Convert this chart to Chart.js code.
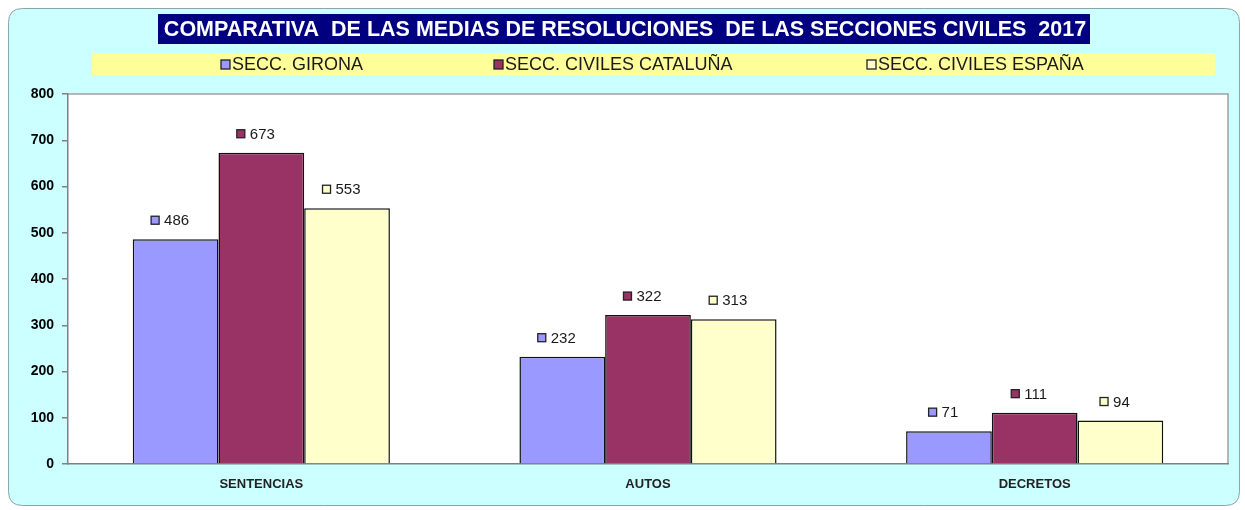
<!DOCTYPE html>
<html>
<head>
<meta charset="utf-8">
<script src="https://cdn.jsdelivr.net/npm/chart.js@4"></script>
<style>
  html, body { margin: 0; padding: 0; background: #ffffff; }
  #wrap { width: 1245px; height: 510px; position: relative; }
</style>
</head>
<body>
<div id="wrap"><canvas id="grafico"></canvas></div>
<script>
var titulo = 'COMPARATIVA  DE LAS MEDIAS DE RESOLUCIONES  DE LAS SECCIONES CIVILES  2017';
var categorias = ['SENTENCIAS', 'AUTOS', 'DECRETOS'];
var nombresSeries = ['SECC. GIRONA', 'SECC. CIVILES CATALUÑA', 'SECC. CIVILES ESPAÑA'];
var girona = [486, 232, 71];
var cataluna = [673, 322, 111];
var espana = [553, 313, 94];
var coloresSeries = ['#9999ff', '#993366', '#ffffcc'];
var ticksY = [0, 100, 200, 300, 400, 500, 600, 700, 800];

function cajaRedondeada(ctx, x, y, w, h, r) {
    ctx.beginPath();
    ctx.moveTo(x + r, y);
    ctx.lineTo(x + w - r, y);
    ctx.quadraticCurveTo(x + w, y, x + w, y + r);
    ctx.lineTo(x + w, y + h - r);
    ctx.quadraticCurveTo(x + w, y + h, x + w - r, y + h);
    ctx.lineTo(x + r, y + h);
    ctx.quadraticCurveTo(x, y + h, x, y + h - r);
    ctx.lineTo(x, y + r);
    ctx.quadraticCurveTo(x, y, x + r, y);
    ctx.closePath();
}

// fondo, título y leyenda dibujados a mano
var fondoPlugin = {
    id: 'fondo',
    beforeDraw: function (chart) {
        var ctx = chart.ctx;
        var area = chart.chartArea;
        ctx.save();
        ctx.fillStyle = '#ffffff';
        ctx.fillRect(0, 0, chart.width, chart.height);
        cajaRedondeada(ctx, 8.5, 8.5, 1231, 497, 14);
        ctx.fillStyle = '#ccffff';
        ctx.fill();
        ctx.strokeStyle = '#8aa5a5';
        ctx.lineWidth = 1;
        ctx.stroke();

        // área de trazado blanca
        ctx.fillStyle = '#ffffff';
        ctx.fillRect(area.left, area.top, area.right - area.left, area.bottom - area.top);
        ctx.strokeStyle = '#a0a0a0';
        ctx.lineWidth = 1.5;
        ctx.beginPath();
        ctx.moveTo(area.left, area.top);
        ctx.lineTo(area.right, area.top);
        ctx.lineTo(area.right, area.bottom);
        ctx.stroke();

        // título
        ctx.fillStyle = '#000080';
        ctx.fillRect(158, 14, 932, 30);
        ctx.fillStyle = '#ffffff';
        ctx.font = 'bold 21.5px "Liberation Sans", Arial, sans-serif';
        ctx.textAlign = 'center';
        ctx.textBaseline = 'middle';
        ctx.fillText(titulo, 625, 30);

        // leyenda
        ctx.fillStyle = '#ffff99';
        ctx.fillRect(92, 53, 1123, 23);
        var posX = [221, 494, 867];
        ctx.font = '18px "Liberation Sans", Arial, sans-serif';
        ctx.textAlign = 'left';
        chart.data.datasets.forEach(function (ds, i) {
            ctx.fillStyle = ds.backgroundColor;
            ctx.fillRect(posX[i], 60, 9, 9);
            ctx.strokeStyle = '#222222';
            ctx.lineWidth = 1.3;
            ctx.strokeRect(posX[i], 60, 9, 9);
            ctx.fillStyle = '#1a1a1a';
            ctx.fillText(ds.label, posX[i] + 11, 65);
        });
        ctx.restore();
    },
    afterDatasetsDraw: function (chart) {
        var ctx = chart.ctx;
        ctx.save();
        ctx.font = '15px "Liberation Sans", Arial, sans-serif';
        ctx.textBaseline = 'middle';
        ctx.textAlign = 'left';
        chart.data.datasets.forEach(function (ds, i) {
            var meta = chart.getDatasetMeta(i);
            meta.data.forEach(function (bar, j) {
                var texto = String(ds.data[j]);
                var ancho = ctx.measureText(texto).width;
                var total = 9 + 5 + ancho;
                var x0 = bar.x - total / 2 - 5;
                var y = bar.y - 18;
                ctx.fillStyle = ds.backgroundColor;
                ctx.fillRect(x0, y - 5, 8, 8);
                ctx.strokeStyle = '#222222';
                ctx.lineWidth = 1.3;
                ctx.strokeRect(x0, y - 5, 8, 8);
                ctx.fillStyle = '#1a1a1a';
                ctx.fillText(texto, x0 + 13, y);
            });
        });
        ctx.restore();
    }
};

var ctx = document.getElementById('grafico').getContext('2d');
var grafico = new Chart(ctx, {
    type: 'bar',
    data: {
        labels: categorias,
        datasets: [
            { label: nombresSeries[0], data: girona, backgroundColor: coloresSeries[0] },
            { label: nombresSeries[1], data: cataluna, backgroundColor: coloresSeries[1] },
            { label: nombresSeries[2], data: espana, backgroundColor: coloresSeries[2] }
        ].map(function (ds) {
            ds.borderColor = '#111111';
            ds.borderWidth = 1.5;
            ds.categoryPercentage = 0.665;
            ds.barPercentage = 1;
            return ds;
        })
    },
    options: {
        responsive: true,
        maintainAspectRatio: false,
        animation: false,
        layout: { padding: { top: 94, left: 20, right: 17, bottom: 16 } },
        plugins: {
            legend: { display: false },
            title: { display: false },
            tooltip: { enabled: false }
        },
        scales: {
            y: {
                min: 0,
                max: 800,
                afterFit: function (scale) { scale.width = 48; },
                afterBuildTicks: function (scale) {
                    scale.ticks = ticksY.map(function (v) { return { value: v }; });
                },
                border: { display: true, color: '#808080', width: 1.5 },
                grid: { display: true, drawOnChartArea: false, tickLength: 6, color: '#808080', lineWidth: 1.5 },
                ticks: {
                    color: '#000000',
                    padding: 8,
                    font: { family: '"Liberation Sans", Arial, sans-serif', size: 14, weight: 'bold' }
                }
            },
            x: {
                afterFit: function (scale) { scale.height = 30; },
                border: { display: true, color: '#808080', width: 1.5 },
                grid: { display: false },
                ticks: {
                    color: '#222222',
                    padding: 5,
                    font: { family: '"Liberation Sans", Arial, sans-serif', size: 13, weight: 'bold' }
                }
            }
        }
    },
    plugins: [fondoPlugin]
});
</script>
</body>
</html>
